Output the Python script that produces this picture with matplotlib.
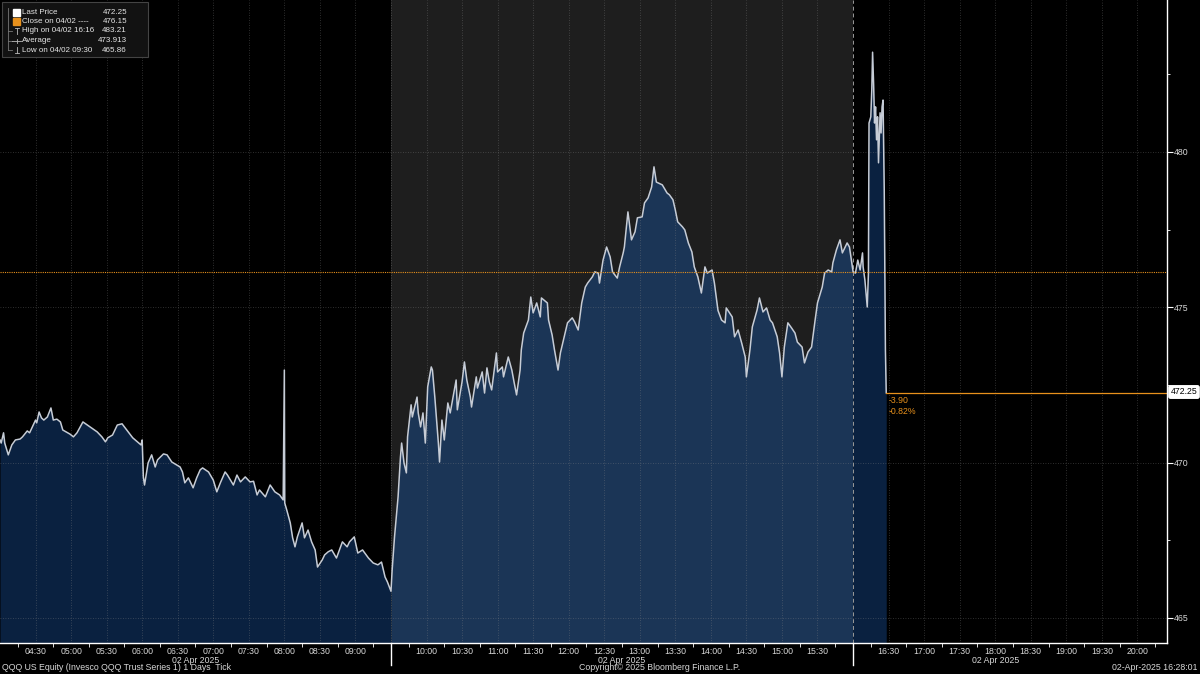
import numpy as np
import pandas as pd
import matplotlib
matplotlib.use("Agg")
import matplotlib.pyplot as plt
from matplotlib.patches import Rectangle

plt.rcParams['font.family'] = ['Liberation Sans', 'DejaVu Sans']

# QQQ ticks on 02 Apr 2025 (time, price)
pre_times = ["04:00", "04:01", "04:03", "04:04", "04:07", "04:10", "04:13", "04:17", "04:19", "04:23",
             "04:25", "04:28", "04:30", "04:31", "04:33", "04:35", "04:37", "04:40", "04:43", "04:45",
             "04:48", "04:51", "04:53", "04:59", "05:02", "05:05", "05:10", "05:16", "05:22", "05:26",
             "05:29", "05:31", "05:35", "05:39", "05:43", "05:47", "05:52", "05:56", "05:59", "06:00",
             "06:01", "06:02", "06:05", "06:08", "06:11", "06:13", "06:18", "06:21", "06:25", "06:29",
             "06:32", "06:34", "06:36", "06:39", "06:43", "06:46", "06:49", "06:51", "06:56", "07:00",
             "07:03", "07:06", "07:10", "07:12", "07:17", "07:20", "07:23", "07:27", "07:31", "07:34",
             "07:37", "07:39", "07:44", "07:48", "07:52", "07:56", "07:59", "08:00", "08:00:20", "08:02",
             "08:05", "08:07", "08:09", "08:11", "08:15", "08:17", "08:20", "08:23", "08:26", "08:28",
             "08:32", "08:34", "08:37", "08:40", "08:44", "08:49", "08:53", "08:55", "08:59", "09:02",
             "09:06", "09:11", "09:15", "09:19", "09:22", "09:25", "09:27", "09:30"]
pre_prices = [470.73, 470.63, 470.96, 470.63, 470.25, 470.57, 470.73, 470.76, 470.83, 471.02,
              470.96, 471.21, 471.37, 471.28, 471.63, 471.44, 471.37, 471.47, 471.76, 471.37,
              471.40, 471.31, 471.05, 470.92, 470.83, 470.96, 471.31, 471.15, 470.99, 470.83,
              470.67, 470.80, 470.89, 471.21, 471.25, 471.05, 470.80, 470.67, 470.57, 470.73,
              469.54, 469.28, 469.99, 470.25, 469.86, 470.09, 470.28, 470.25, 470.02, 469.93,
              469.86, 469.70, 469.35, 469.51, 469.19, 469.51, 469.77, 469.83, 469.70, 469.44,
              469.06, 469.35, 469.70, 469.60, 469.28, 469.60, 469.38, 469.54, 469.38, 469.40,
              468.96, 469.12, 468.90, 469.28, 469.06, 468.96, 468.80, 472.98, 468.70, 468.48,
              468.06, 467.58, 467.29, 467.61, 468.06, 467.58, 467.83, 467.45, 467.19, 466.64,
              466.87, 467.03, 467.13, 467.19, 466.93, 467.45, 467.29, 467.45, 467.61, 467.09,
              467.19, 466.93, 466.77, 466.71, 466.80, 466.32, 466.16, 465.86]

reg_times = ["09:30", "09:31", "09:33", "09:36", "09:38", "09:39", "09:41", "09:43", "09:44", "09:47",
             "09:48", "09:52", "09:53", "09:55", "09:57", "09:59", "10:01", "10:04", "10:05", "10:07",
             "10:10", "10:11", "10:13", "10:15", "10:18", "10:20", "10:22", "10:25", "10:26", "10:30",
             "10:32", "10:34", "10:37", "10:38", "10:42", "10:43", "10:47", "10:49", "10:51", "10:53",
             "10:55", "10:59", "11:00", "11:04", "11:05", "11:09", "11:12", "11:14", "11:16", "11:19",
             "11:20", "11:22", "11:26", "11:28", "11:30", "11:33", "11:36", "11:37", "11:42", "11:43",
             "11:46", "11:48", "11:51", "11:53", "11:57", "11:59", "12:03", "12:05", "12:08", "12:11",
             "12:14", "12:16", "12:20", "12:22", "12:25", "12:26", "12:29", "12:32", "12:35", "12:37",
             "12:41", "12:43", "12:46", "12:47", "12:50", "12:53", "12:56", "12:58", "13:02", "13:04",
             "13:07", "13:10", "13:12", "13:14", "13:19", "13:23", "13:25", "13:28", "13:30", "13:32",
             "13:36", "13:38", "13:41", "13:44", "13:46", "13:49", "13:52", "13:55", "13:57", "14:01",
             "14:03", "14:06", "14:09", "14:12", "14:13", "14:18", "14:20", "14:23", "14:26", "14:29",
             "14:30", "14:33", "14:35", "14:39", "14:41", "14:44", "14:47", "14:50", "14:52", "14:56",
             "14:58", "15:00", "15:02", "15:05", "15:08", "15:11", "15:13", "15:17", "15:19", "15:22",
             "15:25", "15:28", "15:30", "15:34", "15:36", "15:39", "15:42", "15:43", "15:46", "15:49",
             "15:51", "15:55", "15:57", "16:00"]
reg_prices = [465.86, 466.55, 467.61, 468.90, 470.18, 470.63, 469.99, 469.67, 470.83, 471.86,
              471.47, 472.11, 471.60, 471.15, 471.60, 470.63, 472.44, 473.08, 472.98, 472.11,
              470.63, 470.02, 471.37, 470.73, 471.92, 471.60, 472.02, 472.66, 471.70, 472.60,
              473.24, 472.66, 472.11, 471.79, 472.76, 472.40, 472.92, 472.24, 473.05, 472.60,
              472.34, 473.53, 472.92, 473.08, 472.76, 473.40, 472.98, 472.57, 472.18, 472.98,
              473.63, 474.17, 474.59, 475.33, 474.82, 475.14, 474.69, 475.30, 475.14, 474.59,
              474.11, 473.63, 472.98, 473.53, 474.17, 474.50, 474.66, 474.53, 474.27, 475.14,
              475.65, 475.78, 475.98, 476.14, 476.10, 475.78, 476.52, 476.94, 476.62, 476.14,
              475.94, 476.30, 476.75, 476.94, 478.07, 477.17, 477.43, 477.88, 477.91, 478.36,
              478.52, 478.87, 479.52, 479.03, 478.94, 478.68, 478.62, 478.46, 478.13, 477.75,
              477.59, 477.49, 477.07, 476.78, 476.30, 475.98, 475.46, 476.30, 476.10, 476.20,
              475.78, 474.90, 474.59, 474.50, 474.98, 474.69, 474.05, 474.27, 473.85, 473.40,
              472.76, 473.63, 474.37, 474.91, 475.30, 474.85, 474.98, 474.59, 474.50, 474.05,
              473.53, 472.76, 473.72, 474.50, 474.34, 474.17, 473.88, 473.72, 473.21, 473.56,
              473.72, 474.59, 475.14, 475.65, 476.10, 476.20, 476.14, 476.43, 476.85, 477.17,
              476.75, 477.07, 476.94, 476.15]

post_times = ["16:00", "16:02", "16:03", "16:04", "16:06", "16:08", "16:08:30", "16:10", "16:12", "16:13",
              "16:13:30", "16:15", "16:15:50", "16:16:30", "16:17:20", "16:18:10", "16:19", "16:19:50",
              "16:20:40", "16:21:30", "16:22:50", "16:23:40", "16:24:30", "16:25:20", "16:26:20",
              "16:27:20", "16:28:01"]
post_prices = [476.15, 476.10, 476.30, 476.52, 476.20, 476.75, 476.30, 475.88, 475.01, 476.10,
               480.93, 481.13, 482.00, 483.21, 482.22, 480.93, 481.45, 480.39,
               481.13, 479.65, 481.26, 480.61, 481.45, 481.67, 478.78,
               473.63, 472.25]

legend_labels = ["Last Price", "Close on 04/02 ----", "High on 04/02 16:16", "Average", "Low on 04/02 09:30"]
legend_values = ["472.25", "476.15", "483.21", "473.913", "465.86"]
last_price = 472.25
prev_close = 476.15
net_change = "-3.90"
pct_change = "-0.82%"

W, H = 1200, 674
ORANGE = '#e8911c'
TXT = '#d8d8d8'
FS = 6.3


def to_min(ts):
    ts = [t if len(t) > 5 else t + ":00" for t in ts]
    return pd.to_timedelta(pd.Series(ts)).dt.total_seconds().values / 60.0


def hhmm(m):
    return "%02d:%02d" % (int(m // 60), int(m % 60))


pre_x, reg_x, post_x = to_min(pre_times), to_min(reg_times), to_min(post_times)
open_t, close_t = 9.5 * 60, 16 * 60
xmin, xmax = 4 * 60, 20 * 60 + 25
ymin, ymax = 464.195, 484.89

fig = plt.figure(figsize=(W / 100, H / 100), dpi=100, facecolor='black')
ax = fig.add_axes([0, 31 / H, 1167 / W, 643 / H])
ax.set_facecolor('black')
ax.set_xlim(xmin, xmax)
ax.set_ylim(ymin, ymax)

# regular session shading
ax.axvspan(open_t, close_t, color='#1e1e1e', zorder=0, lw=0)

# area under the price
ax.fill_between(pre_x, pre_prices, ymin, color='#0a2140', lw=0, zorder=2)
ax.fill_between(reg_x, reg_prices, ymin, color='#1b3556', lw=0, zorder=2)
ax.fill_between(post_x, post_prices, ymin, color='#0a2140', lw=0, zorder=2)

all_x = np.concatenate([pre_x, reg_x[1:], post_x[1:]])
all_p = np.concatenate([pre_prices, reg_prices[1:], post_prices[1:]])
ax.plot(all_x, all_p, color='#c6ccd6', lw=1.1, zorder=4)

# grid
grid_t = np.arange(4.5 * 60, 20 * 60 + 1, 30)
for t in grid_t:
    if t in (open_t, close_t):
        continue
    ax.axvline(t, color='#8a8a8a', alpha=0.45, lw=0.6, ls=(0, (1, 2)), zorder=3)
for y in [465, 470, 475, 480]:
    ax.axhline(y, color='#8a8a8a', alpha=0.45, lw=0.6, ls=(0, (1, 2)), zorder=3)
ax.axvline(close_t, color='#9a9a9a', lw=0.7, ls=(0, (4, 3)), zorder=3)
ax.axvline(open_t, color='#555555', lw=0.6, ls=(0, (1, 2)), zorder=3)

# close and last price lines
ax.axhline(prev_close, color=ORANGE, lw=0.8, ls=(0, (1, 1)), zorder=5)
ax.plot([post_x[-1], xmax], [last_price, last_price], color=ORANGE, lw=0.9, zorder=5)
ax.text(post_x[-1] + 2, last_price - 0.12, net_change, color=ORANGE, fontsize=FS, va='top', zorder=6)
ax.text(post_x[-1] + 2, last_price - 0.45, pct_change, color=ORANGE, fontsize=FS, va='top', zorder=6)

# axes
for s in ['top', 'left']:
    ax.spines[s].set_visible(False)
for s in ['right', 'bottom']:
    ax.spines[s].set_color('white')
    ax.spines[s].set_linewidth(1)
    ax.spines[s].set_zorder(7)

ax.yaxis.tick_right()
ax.set_yticks([465, 470, 475, 480])
ax.set_yticks([467.5, 472.5, 477.5, 482.5], minor=True)
ax.tick_params(axis='y', which='major', length=4, width=0.8, color='white', labelsize=FS, labelcolor=TXT, pad=1)
ax.tick_params(axis='y', which='minor', length=2, width=0.6, color='white')

major = [t for t in grid_t if t not in (open_t, close_t)]
ax.set_xticks(major)
ax.set_xticklabels([hhmm(t) for t in major])
ax.set_xticks(np.arange(4.25 * 60, 20.3 * 60, 30), minor=True)
ax.tick_params(axis='x', which='major', length=0, labelsize=FS, labelcolor=TXT, pad=3)
ax.tick_params(axis='x', which='minor', length=3, width=0.6, color='white')

trans = ax.get_xaxis_transform()
for t in (open_t, close_t):
    ax.plot([t, t], [0, -0.034], transform=trans, color='white', lw=1, clip_on=False)
for t in (6.75 * 60, 12.75 * 60, 18 * 60):
    ax.text(t, -0.0265, "02 Apr 2025", transform=trans, ha='center', va='center',
            fontsize=FS, color=TXT)

# overlay in pixel coordinates for legend and footer
ov = fig.add_axes([0, 0, 1, 1], zorder=10)
ov.set_xlim(0, W)
ov.set_ylim(H, 0)
ov.axis('off')
ov.patch.set_alpha(0)

ov.add_patch(Rectangle((2, 2), 146, 55, fc='#121212', ec='#444444', lw=0.8))
rows = [12, 21.5, 31, 40.5, 50]
ov.plot([8, 8], [8, 50], color='#777777', lw=0.6)
for r in rows[2:]:
    ov.plot([8, 12], [r, r], color='#777777', lw=0.6)
ov.add_patch(Rectangle((13, rows[0] - 3.5), 7, 7, fc='white', ec='white'))
ov.add_patch(Rectangle((13, rows[1] - 3.5), 7, 7, fc=ORANGE, ec=ORANGE))
ov.plot([16.5, 16.5], [rows[2] - 3, rows[2] + 3], color='#bbbbbb', lw=0.6)
ov.plot([14.5, 18.5], [rows[2] - 3, rows[2] - 3], color='#bbbbbb', lw=0.6)
ov.plot([12, 21], [rows[3], rows[3]], color='#bbbbbb', lw=0.6)
ov.plot([16.5, 16.5], [rows[3] - 2, rows[3] + 2], color='#bbbbbb', lw=0.6)
ov.plot([16.5, 16.5], [rows[4] - 3, rows[4] + 3], color='#bbbbbb', lw=0.6)
ov.plot([14.5, 18.5], [rows[4] + 3, rows[4] + 3], color='#bbbbbb', lw=0.6)
for r, lab, val in zip(rows, legend_labels, legend_values):
    ov.text(22, r, lab, color='#e6e6e6', fontsize=5.8, va='center', ha='left')
    ov.text(127, r, val, color='#e6e6e6', fontsize=5.8, va='center', ha='right')

ov.text(1184, 392, "%.2f" % last_price, color='black', fontsize=FS, ha='center', va='center',
        bbox=dict(boxstyle='round,pad=0.2', fc='white', ec='white'))

ov.text(2, 667, "QQQ US Equity (Invesco QQQ Trust Series 1) 1 Days  Tick", color=TXT,
        fontsize=FS, ha='left', va='center')
ov.text(660, 667, "Copyright\u00a9 2025 Bloomberg Finance L.P.", color=TXT,
        fontsize=FS, ha='center', va='center')
ov.text(1198, 667, "02-Apr-2025 16:28:01", color=TXT, fontsize=FS, ha='right', va='center')

fig.savefig("out.png", dpi=100, facecolor='black')
